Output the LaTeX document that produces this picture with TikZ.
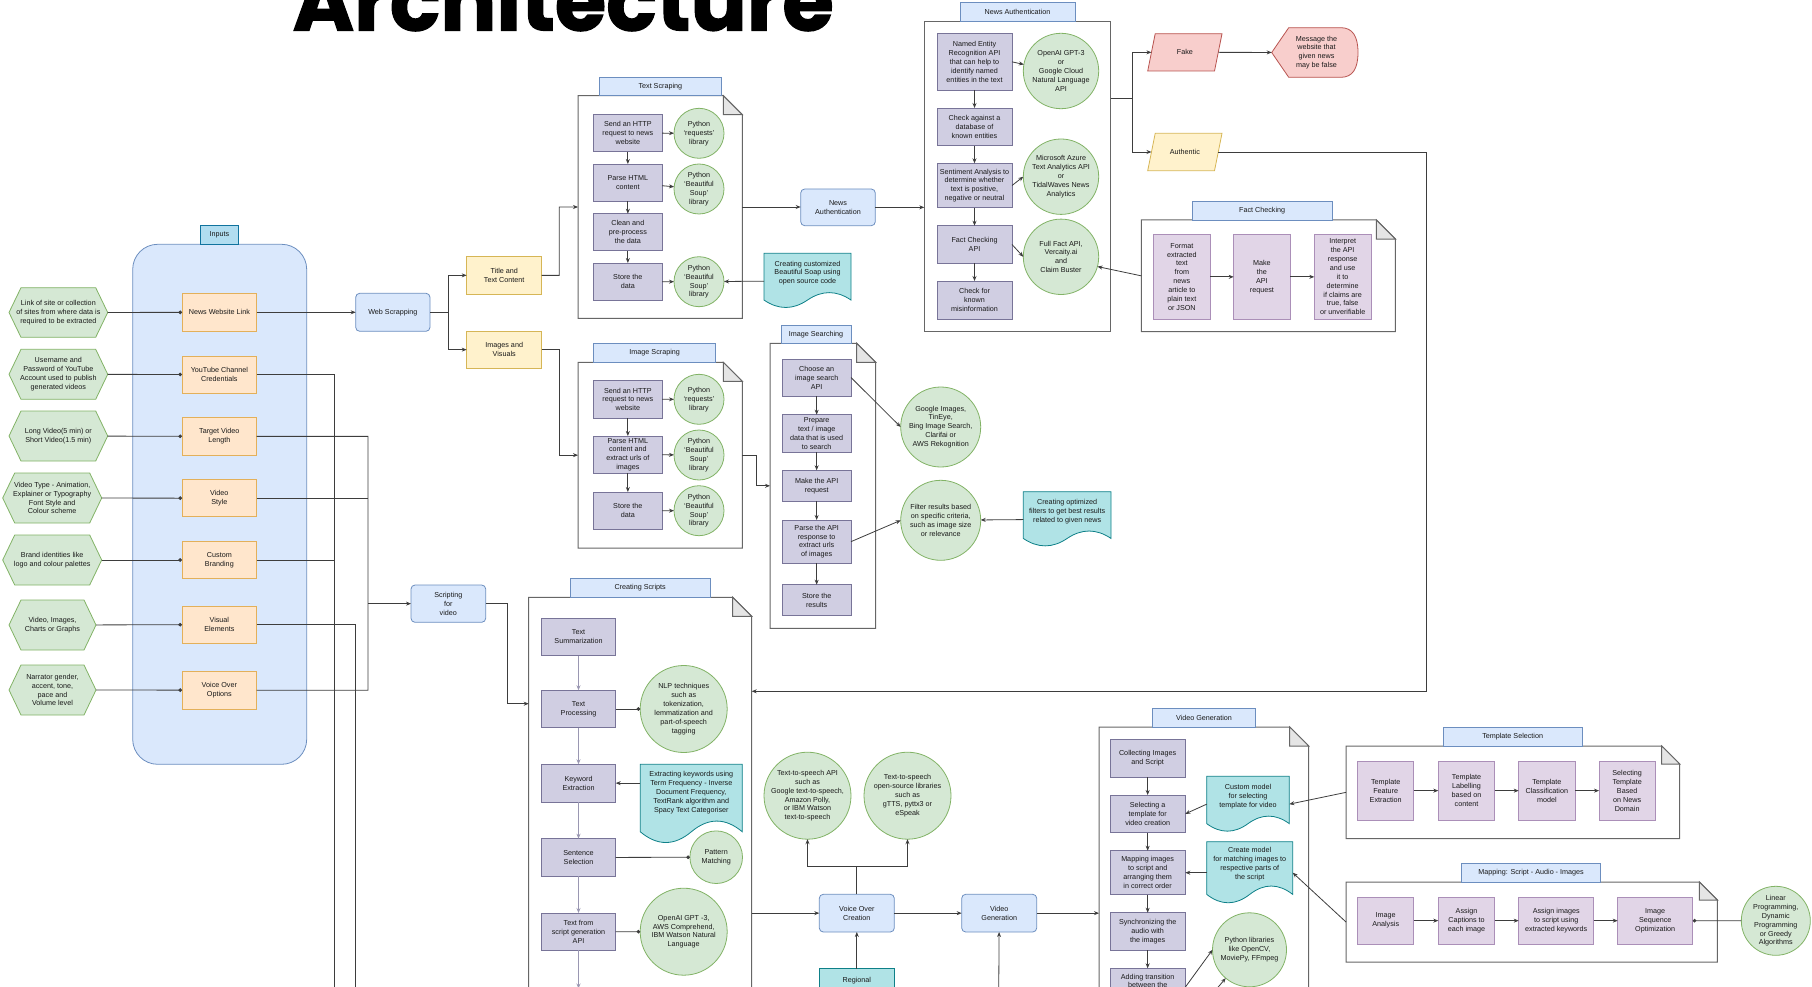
\documentclass[tikz,border=0pt]{standalone}
\usepackage{graphicx}
\usepackage{fontspec}
\setmainfont{Liberation Sans}
\newfontfamily\titlefont{Poppins}[BoldFeatures={FakeBold=1.5}]
\usetikzlibrary{arrows.meta}
\definecolor{bluef}{HTML}{DAE8FC}\definecolor{bluel}{HTML}{6C8EBF}
\definecolor{cyanf}{HTML}{B1DDF0}\definecolor{cyanl}{HTML}{10739E}
\definecolor{orf}{HTML}{FFE6CC}\definecolor{orl}{HTML}{E3B05A}
\definecolor{yef}{HTML}{FFF2CC}\definecolor{yel}{HTML}{D6B656}
\definecolor{grf}{HTML}{D5E8D4}\definecolor{grl}{HTML}{82B366}
\definecolor{puf}{HTML}{D0CEE2}\definecolor{pul}{HTML}{56517E}
\definecolor{lpf}{HTML}{E1D5E7}\definecolor{lpl}{HTML}{9673A6}
\definecolor{redf}{HTML}{F8CECC}\definecolor{redl}{HTML}{B85450}
\definecolor{tef}{HTML}{B0E3E6}\definecolor{tel}{HTML}{0E8088}
\definecolor{contc}{HTML}{666666}
\definecolor{lnc}{HTML}{3D3D3D}
\tikzset{
 every node/.style={font=\fontsize{7.2}{8.9}\selectfont, text=black!90, align=center, inner sep=0pt, outer sep=0pt},
 bluebox/.style={draw=bluel, fill=bluef, line width=0.8pt, rounded corners=4pt},
 tabbox/.style={draw=bluel, fill=bluef, line width=0.8pt},
 intab/.style={draw=cyanl, fill=cyanf, line width=0.8pt},
 inbg/.style={draw=bluel, fill=bluef, line width=0.8pt, rounded corners=25pt},
 orbox/.style={draw=orl, fill=orf, line width=0.8pt},
 yebox/.style={draw=yel, fill=yef, line width=0.8pt},
 pubox/.style={draw=pul!80, fill=puf, line width=0.8pt},
 lpbox/.style={draw=lpl!80, fill=lpf, line width=0.8pt},
 tebox/.style={draw=tel, fill=tef, line width=0.8pt},
 gcirc/.style={circle, draw=grl, fill=grf, line width=0.8pt},
 hexst/.style={draw=grl, fill=grf, line width=0.8pt},
 redst/.style={draw=redl, fill=redf, line width=0.8pt},
 yest/.style={draw=yel, fill=yef, line width=0.8pt},
 docst/.style={draw=tel, fill=tef, line width=0.8pt},
 contbox/.style={draw=contc, fill=white, line width=1pt},
 contst/.style={draw=contc, fill=white, line width=1pt},
 foldst/.style={draw=contc, fill=black!10, line width=1pt},
 ln/.style={draw=lnc, line width=0.8pt},
 arr/.style={ln, -{Stealth[length=5pt,width=4pt]}},
 dotc/.style={ln, -{Circle[length=3.6pt]}},
 parr/.style={draw=pul!60, line width=0.8pt, -{Stealth[length=5pt,width=4pt]}},
}
% box by corners: style name x1 y1 x2 y2 text
\newcommand\mybox[7]{\pgfmathsetmacro\mbw{(#5)-(#3)}\pgfmathsetmacro\mbh{(#6)-(#4)}%
 \pgfmathsetmacro\mbx{((#3)+(#5))/2}\pgfmathsetmacro\mby{((#4)+(#6))/2}%
 \node[#1, minimum width=\mbw pt, minimum height=\mbh pt] (#2) at (\mbx,\mby) {};
 \node at (#2.center) {#7};}
% circle: name cx cy r text
\newcommand\circnode[5]{\pgfmathsetmacro\mbw{2*(#4)}%
 \node[gcirc, minimum size=\mbw pt] (#1) at (#2,#3) {};
 \node at (#1.center) {#5};}
% hexagon: name x1 y1 x2 y2 text
\newcommand\hexa[6]{\pgfmathsetmacro\mbw{(#4)-(#2)}\pgfmathsetmacro\mbh{(#5)-(#3)}%
 \pgfmathsetmacro\mbx{((#2)+(#4))/2}\pgfmathsetmacro\mby{((#3)+(#5))/2}%
 \filldraw[hexst] (#2,\mby) -- ({#2+12},#3) -- ({#4-12},#3) -- (#4,\mby) -- ({#4-12},#5) -- ({#2+12},#5) -- cycle;
 \node[minimum width=\mbw pt, minimum height=\mbh pt] (#1) at (\mbx,\mby) {#6};}
% parallelogram: style name x1 y1 x2 y2 text
\newcommand\para[7]{\pgfmathsetmacro\mbw{(#5)-(#3)}\pgfmathsetmacro\mbh{(#6)-(#4)}%
 \pgfmathsetmacro\mbx{((#3)+(#5))/2}\pgfmathsetmacro\mby{((#4)+(#6))/2}%
 \filldraw[#1] ({#3+7.5},#4) -- (#5,#4) -- ({#5-7.5},#6) -- (#3,#6) -- cycle;
 \node[minimum width=\mbw pt, minimum height=\mbh pt] (#2) at (\mbx,\mby) {#7};}
% note container with folded corner: name x1 y1 x2 y2 fold
\newcommand\notebox[6]{\pgfmathsetmacro\mbw{(#4)-(#2)}\pgfmathsetmacro\mbh{(#5)-(#3)}%
 \pgfmathsetmacro\mbx{((#2)+(#4))/2}\pgfmathsetmacro\mby{((#3)+(#5))/2}%
 \filldraw[contst] (#2,#3) -- ({#4-#6},#3) -- (#4,{#3+#6}) -- (#4,#5) -- (#2,#5) -- cycle;
 \filldraw[foldst] ({#4-#6},#3) -- ({#4-#6},{#3+#6}) -- (#4,{#3+#6}) -- cycle;
 \node[minimum width=\mbw pt, minimum height=\mbh pt] (#1) at (\mbx,\mby) {};}
% document shape: name x1 y1 x2 y2 text
\newcommand\docsh[6]{\pgfmathsetmacro\mbw{(#4)-(#2)}\pgfmathsetmacro\mbh{(#5)-(#3)}%
 \pgfmathsetmacro\mbx{((#2)+(#4))/2}\pgfmathsetmacro\mby{((#3)+(#5))/2}%
 \pgfmathsetmacro\mydy{0.3*\mbh}%
 \filldraw[docst] (#2,#3) -- (#4,#3) -- (#4,{#5-\mydy/2})
  .. controls ({#2+5*\mbw/6},{#5-1.1*\mydy}) and ({#2+2*\mbw/3},{#5-1.1*\mydy}) .. ({#2+\mbw/2},{#5-\mydy/2})
  .. controls ({#2+\mbw/3},{#5+0.1*\mydy}) and ({#2+\mbw/6},{#5+0.1*\mydy}) .. (#2,{#5-\mydy/2}) -- cycle;
 \node[minimum width=\mbw pt, minimum height=\mbh pt] (#1) at (\mbx,\mby) {};
 \node at (\mbx,{#3+0.36*\mbh}) {#6};}
\begin{document}
\begin{tikzpicture}[x=1pt,y=-1pt]
\useasboundingbox (0,0) rectangle (1812,987);
% ---------- title
\node[anchor=base west, text=black] (title) at (292.7,30.5) {\resizebox{540.6pt}{!}{\titlefont\bfseries Architecture}};
% ---------- containers
\mybox{inbg}{inBg}{132.7}{244.3}{306.7}{764.3}{}
\notebox{tsC}{578}{95.7}{742.3}{318.3}{19}
\notebox{isC}{578}{362.3}{742.3}{548}{19}
\notebox{isrC}{770}{343.3}{875.7}{628.3}{19}
\mybox{contbox}{naC}{924.3}{21.7}{1110.7}{331.7}{}
\notebox{fcC}{1141.3}{220}{1395.3}{331.7}{19}
\notebox{csC}{528.7}{597.3}{751.7}{1012}{19}
\notebox{vgC}{1099}{727}{1308.7}{1012}{19}
\notebox{tselC}{1346}{746}{1679.7}{838.7}{18}
\notebox{mapC}{1346}{882}{1717.3}{962}{18}
% ---------- tabs
\mybox{intab}{inTab}{200.7}{225.7}{238.3}{244.3}{Inputs}
\mybox{tabbox}{tsTab}{599}{77.3}{721.7}{95.7}{Text Scraping}
\mybox{tabbox}{isTab}{593.7}{343.3}{715.7}{362.3}{Image Scraping}
\mybox{tabbox}{isrTab}{781}{325}{851}{343.3}{Image Searching}
\mybox{tabbox}{naTab}{960}{2.7}{1075}{21.7}{News Authentication}
\mybox{tabbox}{fcTab}{1192.3}{201}{1332}{220}{Fact Checking}
\mybox{tabbox}{csTab}{570.3}{578.3}{710}{597.3}{Creating Scripts}
\mybox{tabbox}{vgTab}{1152.3}{708.7}{1255.7}{727}{Video Generation}
\mybox{tabbox}{tselTab}{1443}{727}{1582.3}{746}{Template Selection}
\mybox{tabbox}{mapTab}{1461.3}{863.3}{1600.7}{882}{Mapping: Script - Audio - Images}
% ---------- inputs
\mybox{orbox}{ob1}{182}{293.3}{256.7}{331.3}{News Website Link}
\mybox{orbox}{ob2}{182}{356}{256.7}{393}{YouTube Channel\\Credentials}
\mybox{orbox}{ob3}{182}{417.7}{256.7}{455}{Target Video\\Length}
\mybox{orbox}{ob4}{182}{479.7}{256.7}{516.7}{Video\\Style}
\mybox{orbox}{ob5}{182}{541.3}{256.7}{578.7}{Custom\\Branding}
\mybox{orbox}{ob6}{182}{606}{256.7}{643.3}{Visual\\Elements}
\mybox{orbox}{ob7}{182}{671.3}{256.7}{709}{Voice Over\\Options}
\hexa{h1}{9}{287.7}{107.7}{337.3}{Link of site or collection\\of sites from where data is\\required to be extracted}
\hexa{h2}{9}{349.3}{107.7}{399.3}{Username and\\Password of YouTube\\Account used to publish\\generated videos}
\hexa{h3}{9}{411}{107.7}{461}{Long Video(5 min) or\\Short Video(1.5 min)}
\hexa{h4}{2.7}{473}{101.7}{523}{Video Type - Animation,\\Explainer or Typography\\Font Style and\\Colour scheme}
\hexa{h5}{2.7}{535}{101.7}{585}{Brand identities like\\logo and colour palettes}
\hexa{h6}{9}{600}{96}{650}{Video, Images,\\Charts or Graphs}
\hexa{h7}{9}{665}{96}{715}{Narrator gender,\\accent, tone,\\pace and\\Volume level}
\mybox{bluebox}{ws}{355.7}{293.3}{430}{331.3}{Web Scrapping}
\mybox{yebox}{tt}{466.7}{256.7}{541.7}{294}{Title and\\Text Content}
\mybox{yebox}{iv}{466.7}{331}{541.7}{368.3}{Images and\\Visuals}
\mybox{bluebox}{sfv}{411}{585}{485.7}{622.3}{Scripting\\for\\video}
% ---------- text scraping
\mybox{pubox}{ts1}{593.7}{114.3}{662}{151.7}{Send an HTTP\\request to news\\website}
\mybox{pubox}{ts2}{593.7}{164}{662}{201.3}{Parse HTML\\content}
\mybox{pubox}{ts3}{593.7}{213.7}{662}{250.7}{Clean and\\pre-process\\the data}
\mybox{pubox}{ts4}{593.7}{263}{662}{300.3}{Store the\\data}
\circnode{tc1}{699}{133.3}{25}{Python\\`requests'\\library}
\circnode{tc2}{699}{189}{25}{Python\\`Beautiful\\Soup'\\library}
\circnode{tc3}{699}{281.7}{25}{Python\\`Beautiful\\Soup'\\library}
\docsh{docs1}{764}{253.3}{851}{308.3}{Creating customized\\Beautiful Soap using\\open source code}
\mybox{bluebox}{na}{800.7}{189}{875.3}{225.7}{News\\Authentication}
% ---------- image scraping
\mybox{pubox}{is1}{593.7}{380.7}{662}{418}{Send an HTTP\\request to news\\website}
\mybox{pubox}{is2}{593.7}{436}{662}{473.3}{Parse HTML\\content and\\extract urls of\\images}
\mybox{pubox}{is3}{593.7}{492}{662}{529.3}{Store the\\data}
\circnode{ic1}{699}{399.3}{25}{Python\\`requests'\\library}
\circnode{ic2}{699}{455}{25}{Python\\`Beautiful\\Soup'\\library}
\circnode{ic3}{699}{510.7}{25}{Python\\`Beautiful\\Soup'\\library}
% ---------- image searching
\mybox{pubox}{sr1}{782.3}{359}{851}{396}{Choose an\\image search\\API}
\mybox{pubox}{sr2}{782.3}{414.7}{851}{452}{Prepare\\text / image\\data that is used\\to search}
\mybox{pubox}{sr3}{782.3}{470.3}{851}{501.3}{Make the API\\request}
\mybox{pubox}{sr4}{782.3}{520}{851}{563.3}{Parse the API\\response to\\extract urls\\of images}
\mybox{pubox}{sr5}{782.3}{584.7}{851}{615.7}{Store the\\results}
\circnode{gc1}{940.7}{427}{40}{Google Images,\\TinEye,\\Bing Image Search,\\Clarifai or\\AWS Rekognition}
\circnode{gc2}{940.7}{520.3}{40}{Filter results based\\on specific criteria,\\such as image size\\or relevance}
\docsh{docs2}{1023.3}{491.7}{1111}{546.7}{Creating optimized\\filters to get best results\\related to given news}
% ---------- news authentication
\mybox{pubox}{na1}{937}{33.7}{1012}{90}{Named Entity\\Recognition API\\that can help to\\identify named\\entities in the text}
\mybox{pubox}{na2}{937}{108}{1012}{145.7}{Check against a\\database of\\known entities}
\mybox{pubox}{na3}{937}{163.3}{1012}{207.7}{Sentiment Analysis to\\determine whether\\text is positive,\\negative or neutral}
\mybox{pubox}{na4}{937}{225.7}{1012}{263.3}{Fact Checking\\API}
\mybox{pubox}{na5}{937}{281}{1012}{319}{Check for\\known\\misinformation}
\circnode{nc1}{1061}{71}{37.7}{OpenAI GPT-3\\or\\Google Cloud\\Natural Language\\API}
\circnode{nc2}{1061}{176.7}{37.7}{Microsoft Azure\\Text Analytics API\\or\\TidalWaves News\\Analytics}
\circnode{nc3}{1061}{256.8}{37.7}{Full Fact API,\\Vercaity.ai\\and\\Claim Buster}
\para{redst}{fake}{1147.7}{33.7}{1222}{71}{Fake}
\para{yest}{auth}{1147.7}{133.3}{1222}{170.7}{Authentic}
\filldraw[redst] (1271.7,52.5) -- (1288.7,27.7) -- (1341,27.7) .. controls (1352.3,27.7) and (1358,36) .. (1358,52.5) .. controls (1358,69) and (1352.3,77.3) .. (1341,77.3) -- (1288.7,77.3) -- cycle;
\node[minimum width=86.3pt, minimum height=49.6pt] (msg) at (1314.85,52.5) {};
\node at (1316.5,52.5) {Message the\\website that\\given news\\may be false};
% ---------- fact checking
\mybox{lpbox}{fc1}{1153.7}{234.7}{1210}{319}{Format\\extracted\\text\\from\\news\\article to\\plain text\\or JSON}
\mybox{lpbox}{fc2}{1233.7}{234.7}{1290}{319}{Make\\the\\API\\request}
\mybox{lpbox}{fc3}{1314.3}{234.7}{1371}{319}{Interpret\\the API\\response\\and use\\it to\\determine\\if claims are\\true, false\\or unverifiable}
% ---------- creating scripts
\mybox{pubox}{cs1}{541.3}{618.3}{615.7}{655.7}{Text\\Summarization}
\mybox{pubox}{cs2}{541.3}{690.3}{615.7}{727.7}{Text\\Processing}
\mybox{pubox}{cs3}{541.3}{764.3}{615.7}{802}{Keyword\\Extraction}
\mybox{pubox}{cs4}{541.3}{838.7}{615.7}{876.3}{Sentence\\Selection}
\mybox{pubox}{cs5}{541.3}{913}{615.7}{950.3}{Text from\\script generation\\API}
\circnode{cc1}{683.7}{709}{43.5}{NLP techniques\\such as\\tokenization,\\lemmatization and\\part-of-speech\\tagging}
\circnode{cc2}{716.2}{857.2}{26.3}{Pattern\\Matching}
\circnode{cc3}{683.7}{931.7}{43.5}{OpenAI GPT -3,\\AWS Comprehend,\\IBM Watson Natural\\Language}
\docsh{docs3}{640.3}{764.3}{742.3}{843.7}{Extracting keywords using\\Term Frequency - Inverse\\Document Frequency,\\TextRank algorithm and\\Spacy Text Categoriser}
% ---------- voice over
\mybox{bluebox}{voc}{819.3}{894.3}{894.3}{932}{Voice Over\\Creation}
\circnode{tts1}{807.5}{795.7}{43.5}{Text-to-speech API\\such as\\Google text-to-speech,\\Amazon Polly,\\or IBM Watson\\text-to-speech}
\circnode{tts2}{907.5}{795.7}{43.5}{Text-to-speech\\open-source libraries\\such as\\gTTS, pyttx3 or\\eSpeak}
\mybox{tebox}{rg}{819.3}{968.7}{894.3}{1006}{}
\node at (856.8,981) {Regional};
\mybox{bluebox}{vg}{961.7}{894.3}{1036.7}{932}{Video\\Generation}
% ---------- video generation
\mybox{pubox}{vg1}{1110}{739.3}{1185.3}{777}{Collecting Images\\and Script}
\mybox{pubox}{vg2}{1110}{795}{1185.3}{832.7}{Selecting a\\template for\\video creation}
\mybox{pubox}{vg3}{1110}{850.7}{1185.3}{894.7}{Mapping images\\to script and\\arranging them\\in correct order}
\mybox{pubox}{vg4}{1110}{912.7}{1185.3}{950.3}{Synchronizing the\\audio with\\the images}
\mybox{pubox}{vg5}{1110}{968.3}{1185.3}{1006}{}
\node[anchor=north] at (1147.65,973.8) {Adding transition\\between the};
\docsh{cm}{1206.7}{776.3}{1289.3}{832}{Custom model\\for selecting\\template for video}
\docsh{cr}{1206.7}{841.7}{1292.7}{903.7}{Create model\\for matching images to\\respective parts of\\the script}
\circnode{pyc}{1249.5}{949.8}{37}{Python libraries\\like OpenCV,\\MoviePy, FFmpeg}
% ---------- template selection
\mybox{lpbox}{t1}{1357.7}{761}{1413.7}{820.3}{Template\\Feature\\Extraction}
\mybox{lpbox}{t2}{1438.3}{761}{1494.7}{820.3}{Template\\Labelling\\based on\\content}
\mybox{lpbox}{t3}{1518.7}{761}{1575}{820.3}{Template\\Classification\\model}
\mybox{lpbox}{t4}{1599}{761}{1655.3}{820.3}{Selecting\\Template\\Based\\on News\\Domain}
% ---------- mapping
\mybox{lpbox}{m1}{1357.7}{897.3}{1413.7}{944}{Image\\Analysis}
\mybox{lpbox}{m2}{1438.3}{897.3}{1494.7}{944}{Assign\\Captions to\\each image}
\mybox{lpbox}{m3}{1518.7}{897.3}{1593.7}{944}{Assign images\\to script using\\extracted keywords}
\mybox{lpbox}{m4}{1617.7}{897.3}{1692.7}{944}{Image\\Sequence\\Optimization}
\circnode{lpc}{1775.8}{920.8}{34.5}{Linear\\Programming,\\Dynamic\\Programming\\or Greedy\\Algorithms}
% ================= connectors
\foreach \i in {1,...,7} {\draw[dotc] (h\i) -- (ob\i);}
\draw[arr] (ob1) -- (ws);
\coordinate (wsj) at (448.3,312.3);
\draw[ln] (ws) -- (wsj);
\draw[arr] (wsj) |- (tt);
\draw[arr] (wsj) |- (iv);
\coordinate (ttj) at (559.3,275.35);
\draw[arr] (tt) -- (ttj) |- (tsC);
\coordinate (ivj) at (559.3,349.65);
\draw[arr] (iv) -- (ivj) |- (isC);
\draw[arr] (tsC.east) -- (tsC.east -| na.west);
\draw[arr] (na) -- (na -| naC.west);
% text scraping
\draw[arr] (ts1) -- (ts2);
\draw[arr] (ts2) -- (ts3);
\draw[arr] (ts3) -- (ts4);
\draw[arr] (ts1) -- (tc1);
\draw[arr] (ts2) -- (tc2);
\draw[arr] (ts4) -- (tc3);
\draw[arr] (docs1) -- (tc3);
% image scraping
\draw[arr] (is1) -- (is2);
\draw[arr] (is2) -- (is3);
\draw[arr] (is1) -- (ic1);
\draw[arr] (is2) -- (ic2);
\draw[arr] (is3) -- (ic3);
\coordinate (isj) at (756,455.15);
\draw[arr] (isC) -- (isj) |- (isrC);
% image searching
\draw[arr] (sr1) -- (sr2);
\draw[arr] (sr2) -- (sr3);
\draw[arr] (sr3) -- (sr4);
\draw[arr] (sr4) -- (sr5);
\draw[arr] (sr1.east) -- (gc1.west);
\draw[arr] (sr4.east) -- (gc2.west);
\draw[arr] (docs2) -- (gc2);
% news authentication
\draw[arr] (na1) -- (na2);
\draw[arr] (na2) -- (na3);
\draw[arr] (na3) -- (na4);
\draw[arr] (na4) -- (na5);
\draw[arr] (na1.east) -- (nc1.170);
\draw[arr] (na3.east) -- (nc2.west);
\draw[arr] (na4.east) -- (nc3.west);
\draw[arr] (fcC.west) -- (nc3.-15);
\coordinate (naj) at (1132.3,98.7);
\draw[ln] (naC.east |- naj) -- (naj);
\draw[arr] (naj) |- ([xshift=3.75pt]fake.west);
\draw[arr] (naj) |- ([xshift=3.75pt]auth.west);
\draw[arr] ([xshift=-3.75pt]fake.east) -- (msg);
\coordinate (authc) at (1426,152);
\coordinate (csin) at (751.7,691.3);
\draw[arr] ([xshift=-3.75pt]auth.east) -- (authc) |- (csin);
% fact checking
\draw[arr] (fc1) -- (fc2);
\draw[arr] (fc2) -- (fc3);
% inputs to scripting
\coordinate (jv) at (368,690.2);
\draw[ln] (ob3) -| (jv) -- (ob7);
\draw[ln] (ob4) -- (ob4 -| jv);
\draw[arr] (sfv -| jv) -- (sfv);
\coordinate (yb1) at (334,997);
\coordinate (yb2) at (355.7,997);
\draw[ln] (ob2) -| (yb1);
\draw[ln] (ob5) -- (ob5 -| yb1);
\draw[ln] (ob6) -| (yb2);
\coordinate (sfj) at (507.7,603.65);
\coordinate (csin2) at (528.7,703.7);
\draw[arr] (sfv) -- (sfj) |- (csin2);
% creating scripts
\draw[parr] (cs1) -- (cs2);
\draw[parr] (cs2) -- (cs3);
\draw[parr] (cs3) -- (cs4);
\draw[parr] (cs4) -- (cs5);
\coordinate (cs6t) at (578.5,988.5);
\draw[parr] (cs5) -- (cs6t);
\draw[dotc] (cs2) -- (cc1);
\draw[dotc] (cs4) -- (cc2);
\draw[dotc] (cs5) -- (cc3);
\draw[arr] (cs3.east -| docs3.west) -- (cs3.east);
\draw[arr] (voc.west -| csC.east) -- (voc);
% voice over
\coordinate (vj) at (856.8,866.3);
\draw[ln] (voc) -- (vj);
\draw[arr] (vj) -| (tts1);
\draw[arr] (vj) -| (tts2);
\draw[arr] (rg) -- (voc);
\draw[arr] (voc) -- (vg);
\coordinate (vgb) at (998.7,997);
\draw[arr] (vgb) -- (vg);
\draw[arr] (vg) -- (vg -| vgC.west);
% video generation
\draw[arr] (vg1) -- (vg2);
\draw[arr] (vg2) -- (vg3);
\draw[arr] (vg3) -- (vg4);
\draw[arr] (vg4) -- (vg5);
\draw[arr] (cm.west) -- (vg2.east);
\draw[arr] (cr.west) -- (vg3.east);
\draw[arr] (tselC.west) -- (cm.east);
\draw[arr] (mapC.west) -- (cr.east);
\draw[arr] (vg5.east) -- (pyc.west);
\coordinate (pyb) at (1214,992);
\draw[arr] (pyb) -- (pyc.-130);
% template / mapping
\draw[arr] (t1) -- (t2);
\draw[arr] (t2) -- (t3);
\draw[arr] (t3) -- (t4);
\draw[arr] (m1) -- (m2);
\draw[arr] (m2) -- (m3);
\draw[arr] (m3) -- (m4);
\draw[ln, {Circle[length=3.6pt]}-] (m4) -- (lpc);
\end{tikzpicture}
\end{document}
